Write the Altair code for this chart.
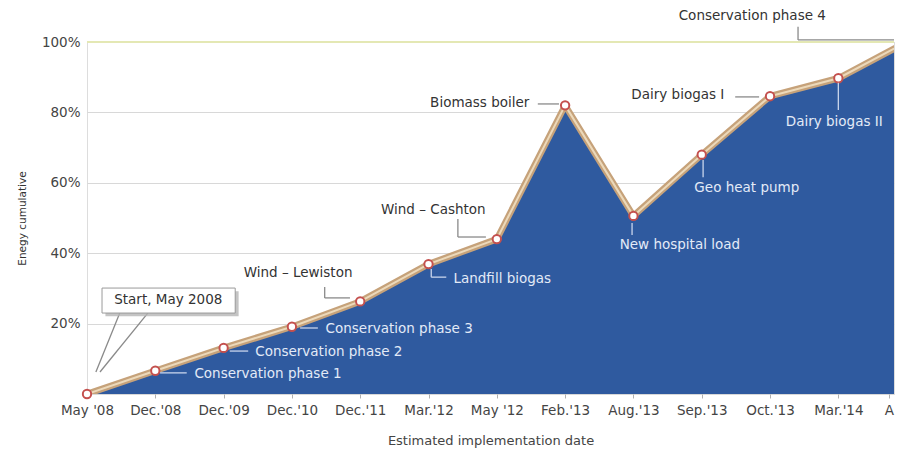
import json
import altair as alt
import pandas as pd

# ---- data -------------------------------------------------------------
dates = ["May '08", "Dec.'08", "Dec.'09", "Dec.'10", "Dec.'11", "Mar.'12",
         "May '12", "Feb.'13", "Aug.'13", "Sep.'13", "Oct.'13", "Mar.'14", "A"]
energy = [0, 6.6, 13.1, 19.1, 26.3, 36.9, 44.0, 82.0, 50.6, 68.0, 84.6, 89.7, 100.0]
y_ticks = [0, 20, 40, 60, 80, 100]

# annotation labels (text, x index, y %)
dark_labels = ["Start, May 2008", "Wind \u2013 Lewiston", "Wind \u2013 Cashton",
               "Biomass boiler", "Dairy biogas I", "Conservation phase 4"]
dark_x = [1.19, 3.09, 5.07, 5.75, 8.65, 9.74]
dark_y = [26.7, 34.4, 52.3, 82.7, 84.9, 107.4]

light_labels = ["Conservation phase 1", "Conservation phase 2", "Conservation phase 3",
                "Landfill biogas", "New hospital load", "Geo heat pump", "Dairy biogas II"]
light_x = [2.65, 3.54, 4.57, 6.08, 8.68, 9.66, 10.94]
light_y = [5.7, 11.9, 18.5, 32.7, 42.3, 58.5, 77.3]

# leader segments
dark_lead_x = [3.48, 3.48, 5.43, 5.43, 6.60, 9.49, 10.41, 10.41, 0.48, 0.89]
dark_lead_x2 = [3.48, 3.85, 5.43, 5.84, 6.91, 9.84, 10.41, 11.815, 0.13, 0.19]
dark_lead_y = [30.4, 27.3, 49.7, 44.6, 82.4, 84.4, 104.3, 100.6, 23.0, 23.0]
dark_lead_y2 = [27.3, 27.3, 44.6, 44.6, 82.4, 84.4, 100.6, 100.6, 6.25, 6.25]

light_lead_x = [1.07, 2.09, 3.12, 5.04, 5.04, 7.98, 9.02, 11.0]
light_lead_x2 = [1.46, 2.36, 3.38, 5.04, 5.26, 7.98, 9.02, 11.0]
light_lead_y = [6.0, 12.2, 18.75, 35.5, 33.2, 48.6, 66.5, 88.4]
light_lead_y2 = [6.0, 12.2, 18.75, 33.2, 33.2, 45.2, 61.6, 80.7]

# callout box for the start label
box_x, box_x2, box_y, box_y2 = [0.22], [2.17], [30.1], [23.0]

X_MAX = 11.815
FONT = "DejaVu Sans"

df = pd.DataFrame({"i": list(range(len(energy))), "v": energy})
dark_df = pd.DataFrame({"t": dark_labels, "x": dark_x, "y": dark_y})
light_df = pd.DataFrame({"t": light_labels, "x": light_x, "y": light_y})
dlead = pd.DataFrame({"x": dark_lead_x, "x2": dark_lead_x2, "y": dark_lead_y, "y2": dark_lead_y2})
llead = pd.DataFrame({"x": light_lead_x, "x2": light_lead_x2, "y": light_lead_y, "y2": light_lead_y2})
box_df = pd.DataFrame({"x": box_x, "x2": box_x2, "y": box_y, "y2": box_y2})
shadow_df = pd.DataFrame({"x": [v + 0.05 for v in box_x], "x2": [v + 0.05 for v in box_x2],
                          "y": [v - 0.9 for v in box_y], "y2": [v - 0.9 for v in box_y2]})
top_df = pd.DataFrame({"y": [100]})

xscale = alt.Scale(domain=[0, X_MAX], nice=False, zero=False)
yscale = alt.Scale(domain=[0, 100], nice=False)

x_axis = alt.Axis(
    values=list(range(12)) + [11.74],
    labelExpr=json.dumps(dates) + "[round(datum.value)]",
    labelOverlap=False, labelBound=False, labelFlush=False,
    grid=False, domain=False, ticks=True, tickSize=4, tickColor="#b0b0b0",
    labelFont=FONT, labelFontSize=13.5, labelColor="#444444", labelPadding=5,
    title="Estimated implementation date", titleFont=FONT, titleFontSize=13,
    titleFontWeight="normal", titleColor="#444444", titlePadding=18,
)
y_axis = alt.Axis(
    values=y_ticks, labelExpr="datum.value == 0 ? '' : datum.value + '%'",
    grid=True, gridColor="#d8d8d8", gridWidth=1.2, domain=False, ticks=False,
    labelFont=FONT, labelFontSize=13.5, labelColor="#444444", labelPadding=7,
    title="Enegy cumulative", titleFont=FONT, titleFontSize=10.5,
    titleFontWeight="normal", titleColor="#333333", titlePadding=14,
)

base = alt.Chart(df).encode(
    x=alt.X("i:Q", scale=xscale, axis=x_axis),
    y=alt.Y("v:Q", scale=yscale, axis=y_axis),
)

top_rule = alt.Chart(top_df).mark_rule(color="#e4e8b4", strokeWidth=2).encode(
    y=alt.Y("y:Q", scale=yscale))

area = base.mark_area(color="#2f5a9f", clip=True, opacity=1)
line_outer = base.mark_line(color="#c6a27a", strokeWidth=6.5, clip=True, strokeJoin="round")
line_inner = base.mark_line(color="#ecd9ba", strokeWidth=2, clip=True, strokeJoin="round")
points = base.mark_point(shape="circle", filled=True, fill="white", stroke="#c4504e",
                         strokeWidth=2, size=70, opacity=1).transform_filter(
    alt.datum.i <= X_MAX)

enc_seg = dict(x=alt.X("x:Q", scale=xscale), x2="x2:Q",
               y=alt.Y("y:Q", scale=yscale), y2="y2:Q")

dark_leads = alt.Chart(dlead).mark_rule(color="#8a8a8a", strokeWidth=1.3).encode(**enc_seg)
light_leads = alt.Chart(llead).mark_rule(color="#c9d5ec", strokeWidth=1.3).encode(**enc_seg)
shadow = alt.Chart(shadow_df).mark_rect(color="#b5b5b5", opacity=0.8).encode(**enc_seg)
box = alt.Chart(box_df).mark_rect(fill="white", stroke="#9a9a9a", strokeWidth=1).encode(**enc_seg)

dark_text = alt.Chart(dark_df).mark_text(font=FONT, fontSize=13.5, color="#333333",
                                         align="center", baseline="middle").encode(
    x=alt.X("x:Q", scale=xscale), y=alt.Y("y:Q", scale=yscale), text="t:N")
light_text = alt.Chart(light_df).mark_text(font=FONT, fontSize=13.5, color="#e3eaf7",
                                           align="center", baseline="middle").encode(
    x=alt.X("x:Q", scale=xscale), y=alt.Y("y:Q", scale=yscale), text="t:N")

chart = alt.layer(
    top_rule, area, line_outer, line_inner, points,
    dark_leads, light_leads, shadow, box, dark_text, light_text,
).properties(
    width=807, height=352,
    autosize=alt.AutoSizeParams(type="none"),
    padding={"left": 87, "top": 42, "right": 9, "bottom": 60},
).configure_view(stroke=None).configure(background="white")

chart.save("out.html", embed_options={"renderer": "svg", "actions": False})
